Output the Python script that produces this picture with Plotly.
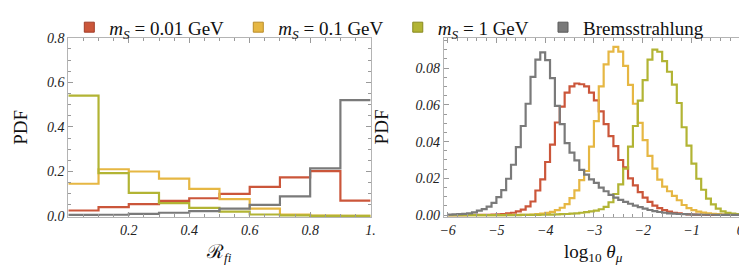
import plotly.graph_objects as go

# ---------------- data ----------------
# Left panel: R_fi histogram, 10 bins of width 0.1
r_edges = [0.0, 0.1, 0.2, 0.3, 0.4, 0.5, 0.6, 0.7, 0.8, 0.9, 1.0]
r_red = [0.025, 0.040, 0.054, 0.068, 0.080, 0.100, 0.131, 0.174, 0.202, 0.069]
r_yellow = [0.145, 0.210, 0.200, 0.168, 0.122, 0.076, 0.033, 0.007, 0.002, 0.001]
r_olive = [0.540, 0.193, 0.104, 0.058, 0.037, 0.020, 0.007, 0.003, 0.001, 0.0005]
r_grey = [0.005, 0.006, 0.010, 0.015, 0.022, 0.033, 0.050, 0.088, 0.214, 0.520]

# Right panel: log10 theta_mu histogram, 60 bins of width 0.1 from -6 to 0
t_edges = [round(-6.0 + 0.1 * k, 1) for k in range(61)]
t_red = [0.0, 0.0, 0.0, 0.0, 0.0001, 0.0001, 0.0001, 0.0002, 0.0002, 0.0003,
         0.0004, 0.0006, 0.0009, 0.0013, 0.0020, 0.0030, 0.0048, 0.0074, 0.0134, 0.0194,
         0.0289, 0.0384, 0.0504, 0.0590, 0.0667, 0.0700, 0.0716, 0.0712, 0.0700, 0.0667,
         0.0624, 0.0564, 0.0495, 0.0430, 0.0375, 0.0300, 0.0260, 0.0200, 0.0162, 0.0125,
         0.0095, 0.0072, 0.0052, 0.0038, 0.0027, 0.0019, 0.0013, 0.0009, 0.0006, 0.0004,
         0.0003, 0.0002, 0.0002, 0.0001, 0.0001, 0.0001, 0.0001, 0.0001, 0.0001, 0.0001]
t_yellow = [0.0, 0.0, 0.0, 0.0, 0.0, 0.0, 0.0, 0.0, 0.0, 0.0,
            0.0, 0.0, 0.0001, 0.0001, 0.0001, 0.0002, 0.0002, 0.0003, 0.0005, 0.0008,
            0.0012, 0.0018, 0.0027, 0.0040, 0.0060, 0.0092, 0.0135, 0.0190, 0.0240, 0.0373,
            0.0511, 0.0700, 0.0820, 0.0890, 0.0915, 0.0890, 0.0812, 0.0709, 0.0606, 0.0502,
            0.0408, 0.0322, 0.0253, 0.0193, 0.0155, 0.0130, 0.0105, 0.0081, 0.0055, 0.0038,
            0.0027, 0.0019, 0.0014, 0.0010, 0.0007, 0.0005, 0.0003, 0.0002, 0.0001, 0.0001]
t_olive = [0.0, 0.0, 0.0, 0.0, 0.0, 0.0, 0.0, 0.0, 0.0, 0.0,
           0.0, 0.0, 0.0, 0.0, 0.0, 0.0001, 0.0001, 0.0001, 0.0001, 0.0002,
           0.0002, 0.0003, 0.0004, 0.0005, 0.0006, 0.0008, 0.0010, 0.0013, 0.0016, 0.0020,
           0.0025, 0.0032, 0.0045, 0.0070, 0.0115, 0.0167, 0.0253, 0.0373, 0.0485, 0.0623,
           0.0734, 0.0846, 0.0900, 0.0889, 0.0838, 0.0780, 0.0710, 0.0610, 0.0478, 0.0378,
           0.0280, 0.0198, 0.0138, 0.0090, 0.0058, 0.0035, 0.0020, 0.0012, 0.0008, 0.0005]
t_grey = [0.0003, 0.0004, 0.0005, 0.0007, 0.0010, 0.0015, 0.0024, 0.0033, 0.0046, 0.0067,
          0.0098, 0.0136, 0.0198, 0.0274, 0.0370, 0.0485, 0.0606, 0.0752, 0.0846, 0.0886,
          0.0843, 0.0745, 0.0594, 0.0495, 0.0392, 0.0340, 0.0298, 0.0246, 0.0220, 0.0195,
          0.0175, 0.0150, 0.0130, 0.0110, 0.0095, 0.0083, 0.0072, 0.0062, 0.0052, 0.0043,
          0.0035, 0.0028, 0.0022, 0.0017, 0.0013, 0.0010, 0.0008, 0.0006, 0.0005, 0.0004,
          0.0003, 0.0003, 0.0002, 0.0002, 0.0002, 0.0001, 0.0001, 0.0001, 0.0001, 0.0001]

series_names = ["<i>m</i><sub><i>S</i></sub> = 0.01 GeV\u2002",
                "<i>m</i><sub><i>S</i></sub> = 0.1 GeV\u2002",
                "<i>m</i><sub><i>S</i></sub> = 1 GeV\u2002",
                "Bremsstrahlung"]
colors = ["rgb(203,86,58)", "rgb(230,183,67)", "rgb(178,180,52)", "rgb(122,122,122)"]
edge_colors = ["rgb(160,60,40)", "rgb(185,140,40)", "rgb(135,137,30)", "rgb(90,90,90)"]

left_x_ticks = [0.0, 0.2, 0.4, 0.6, 0.8, 1.0]
left_x_text = ["", "0.2", "0.4", "0.6", "0.8", "1."]
left_y_ticks = [0.0, 0.2, 0.4, 0.6, 0.8]
left_y_text = ["0.0", "0.2", "0.4", "0.6", "0.8"]
right_x_ticks = [-6, -5, -4, -3, -2, -1, 0]
right_x_text = ["\u22126", "\u22125", "\u22124", "\u22123", "\u22122", "\u22121", "0"]
right_y_ticks = [0.0, 0.02, 0.04, 0.06, 0.08]
right_y_text = ["0.00", "0.02", "0.04", "0.06", "0.08"]

# ---------------- figure ----------------
W, H = 747, 270
fig = go.Figure()

left_sets = [r_red, r_yellow, r_olive, r_grey]
right_sets = [t_red, t_yellow, t_olive, t_grey]

for vals, c in zip(left_sets, colors):
    fig.add_trace(go.Scatter(x=r_edges, y=list(vals) + [vals[-1]], mode="lines",
                             line=dict(color=c, width=2.2, shape="hv"),
                             showlegend=False, xaxis="x", yaxis="y", hoverinfo="skip"))
for vals, c in zip(right_sets, colors):
    fig.add_trace(go.Scatter(x=t_edges, y=list(vals) + [vals[-1]], mode="lines",
                             line=dict(color=c, width=2.2, shape="hv"),
                             showlegend=False, xaxis="x2", yaxis="y2", hoverinfo="skip"))
# legend entries
for name, c, ec in zip(series_names, colors, edge_colors):
    fig.add_trace(go.Scatter(x=[None], y=[None], mode="markers", name=name,
                             marker=dict(symbol="square", size=10, color=c,
                                         line=dict(color=ec, width=1)),
                             xaxis="x", yaxis="y"))

def px_x(p):
    return p / W

def px_y(p):
    return 1 - p / H

frame = "#b4b4b4"
tickc = "#9a9a9a"
tick_font = dict(family="Liberation Serif", size=14, color="#222", style="italic")

common = dict(showgrid=False, zeroline=False, showline=True, linecolor=frame, linewidth=1,
              mirror="allticks", ticks="inside", ticklen=5, tickcolor=tickc, tickwidth=1,
              tickfont=tick_font)

fig.update_layout(
    width=W, height=H,
    margin=dict(l=0, r=0, t=0, b=0),
    paper_bgcolor="white", plot_bgcolor="white",
    xaxis=dict(domain=[px_x(57), px_x(363)], range=[0, 1.0], anchor="y",
               tickmode="array", tickvals=left_x_ticks, ticktext=left_x_text,
               minor=dict(dtick=0.05, tick0=0, ticks="inside", ticklen=3, tickcolor=tickc),
               **common),
    yaxis=dict(domain=[px_y(213), px_y(24)], range=[-0.004, 0.8], anchor="x",
               tickmode="array", tickvals=left_y_ticks, ticktext=left_y_text,
               minor=dict(dtick=0.05, tick0=0, ticks="inside", ticklen=3, tickcolor=tickc),
               **common),
    xaxis2=dict(domain=[px_x(437), px_x(742)], range=[-6.08, 0.1], anchor="y2",
                tickmode="array", tickvals=right_x_ticks, ticktext=right_x_text,
                minor=dict(dtick=0.2, tick0=0, ticks="inside", ticklen=3, tickcolor=tickc),
                **common),
    yaxis2=dict(domain=[px_y(213), px_y(24)], range=[-0.001, 0.0965], anchor="x2",
                tickmode="array", tickvals=right_y_ticks, ticktext=right_y_text,
                minor=dict(dtick=0.005, tick0=0, ticks="inside", ticklen=3, tickcolor=tickc),
                **common),
    legend=dict(orientation="h", x=px_x(58), xanchor="left", y=px_y(13), yanchor="middle",
                font=dict(family="Liberation Serif", size=19, color="#111"),
                bgcolor="rgba(0,0,0,0)", itemclick=False, tracegroupgap=0),
    font=dict(family="Liberation Serif"),
)

title_font = dict(family="Liberation Serif", size=19, color="#111")
annots = [
    dict(text="PDF", x=px_x(9), y=px_y(118), textangle=-90),
    dict(text="PDF", x=px_x(374), y=px_y(118), textangle=-90),
    dict(text="\u211b<sub><i>fi</i></sub>", x=px_x(210), y=px_y(251), textangle=0),
    dict(text="log<sub>10</sub> <i>\u03b8</i><sub><i>\u03bc</i></sub>", x=px_x(589), y=px_y(251), textangle=0),
]
for a in annots:
    fig.add_annotation(xref="paper", yref="paper", showarrow=False,
                       xanchor="center", yanchor="middle", font=title_font, **a)

fig.write_html("out.html")
